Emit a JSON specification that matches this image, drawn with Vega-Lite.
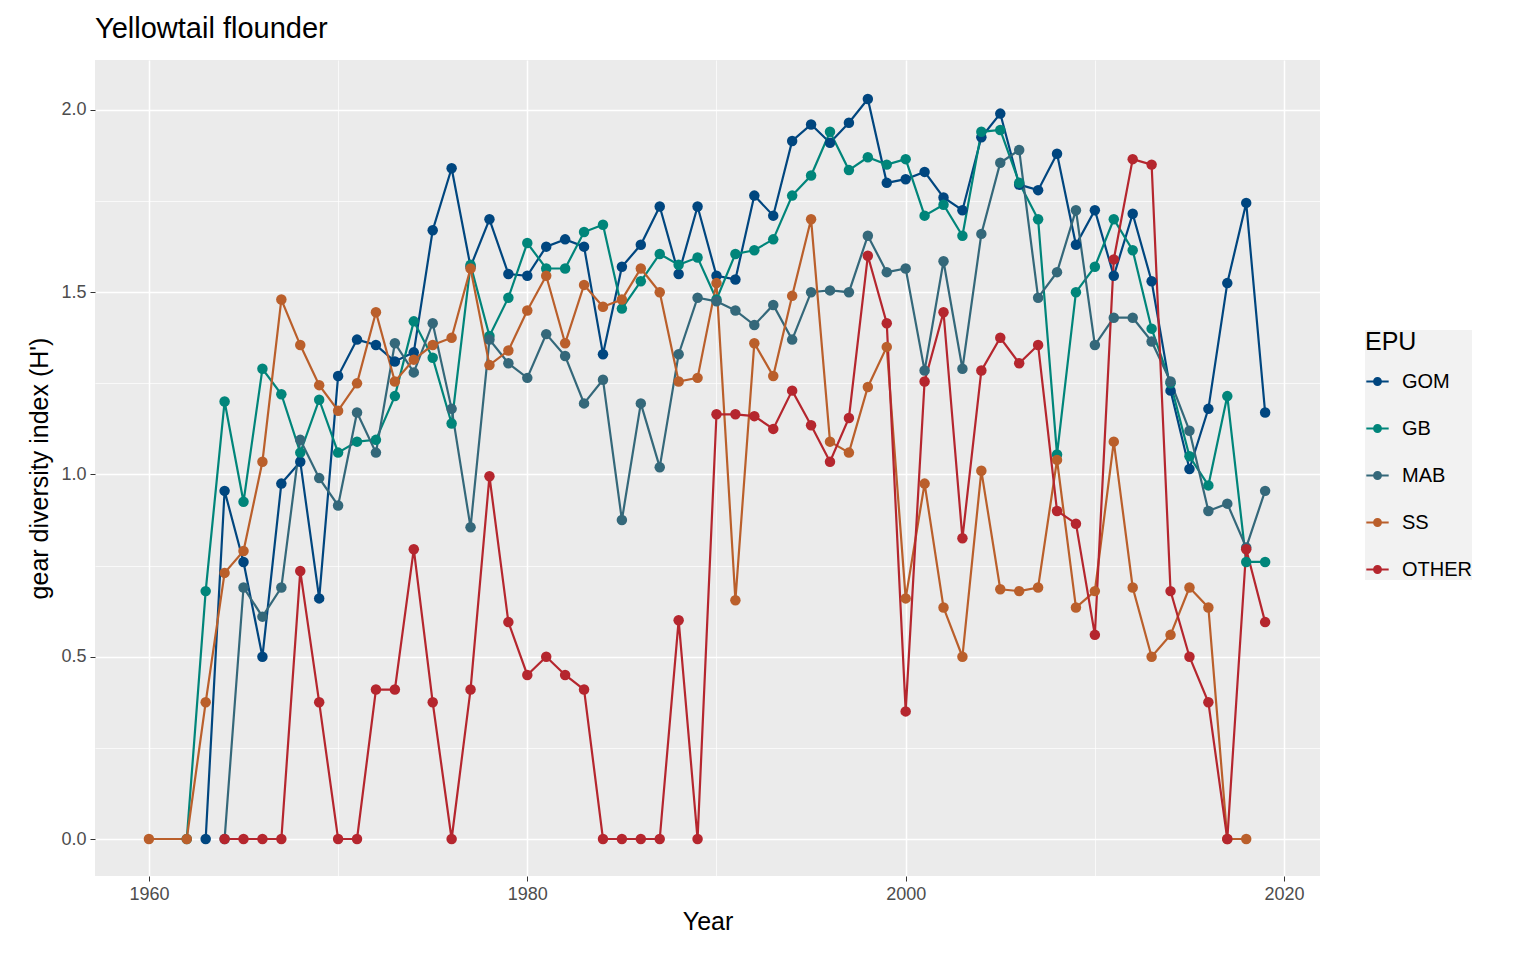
{
  "$schema": "https://vega.github.io/schema/vega-lite/v6.json",
  "width": 1225,
  "height": 816,
  "autosize": {"type": "none"},
  "padding": {"left": 95, "top": 60, "right": 216, "bottom": 84},
  "background": "white",
  "title": {"text": "Yellowtail flounder", "anchor": "start", "frame": "group", "fontSize": 29, "font": "Liberation Sans", "fontWeight": "normal", "color": "black", "offset": 16},
  "config": {
    "font": "Liberation Sans",
    "view": {"fill": "#EBEBEB", "stroke": null},
    "axis": {"gridColor": "white", "domain": false, "tickColor": "#333333", "tickSize": 5, "labelColor": "#4D4D4D", "labelFontSize": 18, "titleFontSize": 25, "titleFontWeight": "normal", "titleColor": "black", "labelPadding": 4}
  },
  "data": {"values": [
    {"year":1963,"EPU":"GOM","v":0},{"year":1964,"EPU":"GOM","v":0.955},{"year":1965,"EPU":"GOM","v":0.76},{"year":1966,"EPU":"GOM","v":0.5},{"year":1967,"EPU":"GOM","v":0.975},{"year":1968,"EPU":"GOM","v":1.035},{"year":1969,"EPU":"GOM","v":0.66},{"year":1970,"EPU":"GOM","v":1.27},{"year":1971,"EPU":"GOM","v":1.37},{"year":1972,"EPU":"GOM","v":1.355},{"year":1973,"EPU":"GOM","v":1.31},{"year":1974,"EPU":"GOM","v":1.335},{"year":1975,"EPU":"GOM","v":1.67},{"year":1976,"EPU":"GOM","v":1.84},{"year":1977,"EPU":"GOM","v":1.57},{"year":1978,"EPU":"GOM","v":1.7},{"year":1979,"EPU":"GOM","v":1.55},{"year":1980,"EPU":"GOM","v":1.545},{"year":1981,"EPU":"GOM","v":1.625},{"year":1982,"EPU":"GOM","v":1.645},{"year":1983,"EPU":"GOM","v":1.625},{"year":1984,"EPU":"GOM","v":1.33},{"year":1985,"EPU":"GOM","v":1.57},{"year":1986,"EPU":"GOM","v":1.63},{"year":1987,"EPU":"GOM","v":1.735},{"year":1988,"EPU":"GOM","v":1.55},{"year":1989,"EPU":"GOM","v":1.735},{"year":1990,"EPU":"GOM","v":1.545},{"year":1991,"EPU":"GOM","v":1.535},{"year":1992,"EPU":"GOM","v":1.765},{"year":1993,"EPU":"GOM","v":1.71},{"year":1994,"EPU":"GOM","v":1.915},{"year":1995,"EPU":"GOM","v":1.96},{"year":1996,"EPU":"GOM","v":1.91},{"year":1997,"EPU":"GOM","v":1.965},{"year":1998,"EPU":"GOM","v":2.03},{"year":1999,"EPU":"GOM","v":1.8},{"year":2000,"EPU":"GOM","v":1.81},{"year":2001,"EPU":"GOM","v":1.83},{"year":2002,"EPU":"GOM","v":1.76},{"year":2003,"EPU":"GOM","v":1.725},{"year":2004,"EPU":"GOM","v":1.925},{"year":2005,"EPU":"GOM","v":1.99},{"year":2006,"EPU":"GOM","v":1.795},{"year":2007,"EPU":"GOM","v":1.78},{"year":2008,"EPU":"GOM","v":1.88},{"year":2009,"EPU":"GOM","v":1.63},{"year":2010,"EPU":"GOM","v":1.725},{"year":2011,"EPU":"GOM","v":1.545},{"year":2012,"EPU":"GOM","v":1.715},{"year":2013,"EPU":"GOM","v":1.53},{"year":2014,"EPU":"GOM","v":1.23},{"year":2015,"EPU":"GOM","v":1.015},{"year":2016,"EPU":"GOM","v":1.18},{"year":2017,"EPU":"GOM","v":1.525},{"year":2018,"EPU":"GOM","v":1.745},{"year":2019,"EPU":"GOM","v":1.17},
    {"year":1962,"EPU":"GB","v":0},{"year":1963,"EPU":"GB","v":0.68},{"year":1964,"EPU":"GB","v":1.2},{"year":1965,"EPU":"GB","v":0.925},{"year":1966,"EPU":"GB","v":1.29},{"year":1967,"EPU":"GB","v":1.22},{"year":1968,"EPU":"GB","v":1.06},{"year":1969,"EPU":"GB","v":1.205},{"year":1970,"EPU":"GB","v":1.06},{"year":1971,"EPU":"GB","v":1.09},{"year":1972,"EPU":"GB","v":1.095},{"year":1973,"EPU":"GB","v":1.215},{"year":1974,"EPU":"GB","v":1.42},{"year":1975,"EPU":"GB","v":1.32},{"year":1976,"EPU":"GB","v":1.14},{"year":1977,"EPU":"GB","v":1.575},{"year":1978,"EPU":"GB","v":1.38},{"year":1979,"EPU":"GB","v":1.485},{"year":1980,"EPU":"GB","v":1.635},{"year":1981,"EPU":"GB","v":1.565},{"year":1982,"EPU":"GB","v":1.565},{"year":1983,"EPU":"GB","v":1.665},{"year":1984,"EPU":"GB","v":1.685},{"year":1985,"EPU":"GB","v":1.455},{"year":1986,"EPU":"GB","v":1.53},{"year":1987,"EPU":"GB","v":1.605},{"year":1988,"EPU":"GB","v":1.575},{"year":1989,"EPU":"GB","v":1.595},{"year":1990,"EPU":"GB","v":1.48},{"year":1991,"EPU":"GB","v":1.605},{"year":1992,"EPU":"GB","v":1.615},{"year":1993,"EPU":"GB","v":1.645},{"year":1994,"EPU":"GB","v":1.765},{"year":1995,"EPU":"GB","v":1.82},{"year":1996,"EPU":"GB","v":1.94},{"year":1997,"EPU":"GB","v":1.835},{"year":1998,"EPU":"GB","v":1.87},{"year":1999,"EPU":"GB","v":1.85},{"year":2000,"EPU":"GB","v":1.865},{"year":2001,"EPU":"GB","v":1.71},{"year":2002,"EPU":"GB","v":1.74},{"year":2003,"EPU":"GB","v":1.655},{"year":2004,"EPU":"GB","v":1.94},{"year":2005,"EPU":"GB","v":1.945},{"year":2006,"EPU":"GB","v":1.8},{"year":2007,"EPU":"GB","v":1.7},{"year":2008,"EPU":"GB","v":1.055},{"year":2009,"EPU":"GB","v":1.5},{"year":2010,"EPU":"GB","v":1.57},{"year":2011,"EPU":"GB","v":1.7},{"year":2012,"EPU":"GB","v":1.615},{"year":2013,"EPU":"GB","v":1.4},{"year":2014,"EPU":"GB","v":1.25},{"year":2015,"EPU":"GB","v":1.05},{"year":2016,"EPU":"GB","v":0.97},{"year":2017,"EPU":"GB","v":1.215},{"year":2018,"EPU":"GB","v":0.76},{"year":2019,"EPU":"GB","v":0.76},
    {"year":1964,"EPU":"MAB","v":0},{"year":1965,"EPU":"MAB","v":0.69},{"year":1966,"EPU":"MAB","v":0.61},{"year":1967,"EPU":"MAB","v":0.69},{"year":1968,"EPU":"MAB","v":1.095},{"year":1969,"EPU":"MAB","v":0.99},{"year":1970,"EPU":"MAB","v":0.915},{"year":1971,"EPU":"MAB","v":1.17},{"year":1972,"EPU":"MAB","v":1.06},{"year":1973,"EPU":"MAB","v":1.36},{"year":1974,"EPU":"MAB","v":1.28},{"year":1975,"EPU":"MAB","v":1.415},{"year":1976,"EPU":"MAB","v":1.18},{"year":1977,"EPU":"MAB","v":0.855},{"year":1978,"EPU":"MAB","v":1.37},{"year":1979,"EPU":"MAB","v":1.305},{"year":1980,"EPU":"MAB","v":1.265},{"year":1981,"EPU":"MAB","v":1.385},{"year":1982,"EPU":"MAB","v":1.325},{"year":1983,"EPU":"MAB","v":1.195},{"year":1984,"EPU":"MAB","v":1.26},{"year":1985,"EPU":"MAB","v":0.875},{"year":1986,"EPU":"MAB","v":1.195},{"year":1987,"EPU":"MAB","v":1.02},{"year":1988,"EPU":"MAB","v":1.33},{"year":1989,"EPU":"MAB","v":1.485},{"year":1990,"EPU":"MAB","v":1.475},{"year":1991,"EPU":"MAB","v":1.45},{"year":1992,"EPU":"MAB","v":1.41},{"year":1993,"EPU":"MAB","v":1.465},{"year":1994,"EPU":"MAB","v":1.37},{"year":1995,"EPU":"MAB","v":1.5},{"year":1996,"EPU":"MAB","v":1.505},{"year":1997,"EPU":"MAB","v":1.5},{"year":1998,"EPU":"MAB","v":1.655},{"year":1999,"EPU":"MAB","v":1.555},{"year":2000,"EPU":"MAB","v":1.565},{"year":2001,"EPU":"MAB","v":1.285},{"year":2002,"EPU":"MAB","v":1.585},{"year":2003,"EPU":"MAB","v":1.29},{"year":2004,"EPU":"MAB","v":1.66},{"year":2005,"EPU":"MAB","v":1.855},{"year":2006,"EPU":"MAB","v":1.89},{"year":2007,"EPU":"MAB","v":1.485},{"year":2008,"EPU":"MAB","v":1.555},{"year":2009,"EPU":"MAB","v":1.725},{"year":2010,"EPU":"MAB","v":1.355},{"year":2011,"EPU":"MAB","v":1.43},{"year":2012,"EPU":"MAB","v":1.43},{"year":2013,"EPU":"MAB","v":1.365},{"year":2014,"EPU":"MAB","v":1.255},{"year":2015,"EPU":"MAB","v":1.12},{"year":2016,"EPU":"MAB","v":0.9},{"year":2017,"EPU":"MAB","v":0.92},{"year":2018,"EPU":"MAB","v":0.8},{"year":2019,"EPU":"MAB","v":0.955},
    {"year":1960,"EPU":"SS","v":0},{"year":1962,"EPU":"SS","v":0},{"year":1963,"EPU":"SS","v":0.375},{"year":1964,"EPU":"SS","v":0.73},{"year":1965,"EPU":"SS","v":0.79},{"year":1966,"EPU":"SS","v":1.035},{"year":1967,"EPU":"SS","v":1.48},{"year":1968,"EPU":"SS","v":1.355},{"year":1969,"EPU":"SS","v":1.245},{"year":1970,"EPU":"SS","v":1.175},{"year":1971,"EPU":"SS","v":1.25},{"year":1972,"EPU":"SS","v":1.445},{"year":1973,"EPU":"SS","v":1.255},{"year":1974,"EPU":"SS","v":1.315},{"year":1975,"EPU":"SS","v":1.355},{"year":1976,"EPU":"SS","v":1.375},{"year":1977,"EPU":"SS","v":1.565},{"year":1978,"EPU":"SS","v":1.3},{"year":1979,"EPU":"SS","v":1.34},{"year":1980,"EPU":"SS","v":1.45},{"year":1981,"EPU":"SS","v":1.545},{"year":1982,"EPU":"SS","v":1.36},{"year":1983,"EPU":"SS","v":1.52},{"year":1984,"EPU":"SS","v":1.46},{"year":1985,"EPU":"SS","v":1.48},{"year":1986,"EPU":"SS","v":1.565},{"year":1987,"EPU":"SS","v":1.5},{"year":1988,"EPU":"SS","v":1.255},{"year":1989,"EPU":"SS","v":1.265},{"year":1990,"EPU":"SS","v":1.525},{"year":1991,"EPU":"SS","v":0.655},{"year":1992,"EPU":"SS","v":1.36},{"year":1993,"EPU":"SS","v":1.27},{"year":1994,"EPU":"SS","v":1.49},{"year":1995,"EPU":"SS","v":1.7},{"year":1996,"EPU":"SS","v":1.09},{"year":1997,"EPU":"SS","v":1.06},{"year":1998,"EPU":"SS","v":1.24},{"year":1999,"EPU":"SS","v":1.35},{"year":2000,"EPU":"SS","v":0.66},{"year":2001,"EPU":"SS","v":0.975},{"year":2002,"EPU":"SS","v":0.635},{"year":2003,"EPU":"SS","v":0.5},{"year":2004,"EPU":"SS","v":1.01},{"year":2005,"EPU":"SS","v":0.685},{"year":2006,"EPU":"SS","v":0.68},{"year":2007,"EPU":"SS","v":0.69},{"year":2008,"EPU":"SS","v":1.04},{"year":2009,"EPU":"SS","v":0.635},{"year":2010,"EPU":"SS","v":0.68},{"year":2011,"EPU":"SS","v":1.09},{"year":2012,"EPU":"SS","v":0.69},{"year":2013,"EPU":"SS","v":0.5},{"year":2014,"EPU":"SS","v":0.56},{"year":2015,"EPU":"SS","v":0.69},{"year":2016,"EPU":"SS","v":0.635},{"year":2017,"EPU":"SS","v":0},{"year":2018,"EPU":"SS","v":0},
    {"year":1964,"EPU":"OTHER","v":0},{"year":1965,"EPU":"OTHER","v":0},{"year":1966,"EPU":"OTHER","v":0},{"year":1967,"EPU":"OTHER","v":0},{"year":1968,"EPU":"OTHER","v":0.735},{"year":1969,"EPU":"OTHER","v":0.375},{"year":1970,"EPU":"OTHER","v":0},{"year":1971,"EPU":"OTHER","v":0},{"year":1972,"EPU":"OTHER","v":0.41},{"year":1973,"EPU":"OTHER","v":0.41},{"year":1974,"EPU":"OTHER","v":0.795},{"year":1975,"EPU":"OTHER","v":0.375},{"year":1976,"EPU":"OTHER","v":0},{"year":1977,"EPU":"OTHER","v":0.41},{"year":1978,"EPU":"OTHER","v":0.995},{"year":1979,"EPU":"OTHER","v":0.595},{"year":1980,"EPU":"OTHER","v":0.45},{"year":1981,"EPU":"OTHER","v":0.5},{"year":1982,"EPU":"OTHER","v":0.45},{"year":1983,"EPU":"OTHER","v":0.41},{"year":1984,"EPU":"OTHER","v":0},{"year":1985,"EPU":"OTHER","v":0},{"year":1986,"EPU":"OTHER","v":0},{"year":1987,"EPU":"OTHER","v":0},{"year":1988,"EPU":"OTHER","v":0.6},{"year":1989,"EPU":"OTHER","v":0},{"year":1990,"EPU":"OTHER","v":1.165},{"year":1991,"EPU":"OTHER","v":1.165},{"year":1992,"EPU":"OTHER","v":1.16},{"year":1993,"EPU":"OTHER","v":1.125},{"year":1994,"EPU":"OTHER","v":1.23},{"year":1995,"EPU":"OTHER","v":1.135},{"year":1996,"EPU":"OTHER","v":1.035},{"year":1997,"EPU":"OTHER","v":1.155},{"year":1998,"EPU":"OTHER","v":1.6},{"year":1999,"EPU":"OTHER","v":1.415},{"year":2000,"EPU":"OTHER","v":0.35},{"year":2001,"EPU":"OTHER","v":1.255},{"year":2002,"EPU":"OTHER","v":1.445},{"year":2003,"EPU":"OTHER","v":0.825},{"year":2004,"EPU":"OTHER","v":1.285},{"year":2005,"EPU":"OTHER","v":1.375},{"year":2006,"EPU":"OTHER","v":1.305},{"year":2007,"EPU":"OTHER","v":1.355},{"year":2008,"EPU":"OTHER","v":0.9},{"year":2009,"EPU":"OTHER","v":0.865},{"year":2010,"EPU":"OTHER","v":0.56},{"year":2011,"EPU":"OTHER","v":1.59},{"year":2012,"EPU":"OTHER","v":1.865},{"year":2013,"EPU":"OTHER","v":1.85},{"year":2014,"EPU":"OTHER","v":0.68},{"year":2015,"EPU":"OTHER","v":0.5},{"year":2016,"EPU":"OTHER","v":0.375},{"year":2017,"EPU":"OTHER","v":0},{"year":2018,"EPU":"OTHER","v":0.795},{"year":2019,"EPU":"OTHER","v":0.595}
  ]},
  "encoding": {
    "x": {"field": "year", "type": "quantitative", "title": "Year",
      "scale": {"domain": [1957.15, 2021.9], "nice": false, "zero": false},
      "axis": {"values": [1960, 1970, 1980, 1990, 2000, 2010, 2020], "format": "d",
        "labelExpr": "datum.value % 20 == 0 ? datum.label : ''",
        "tickWidth": {"condition": {"test": "datum.value % 20 != 0", "value": 0}, "value": 1},
        "gridWidth": {"condition": {"test": "datum.value % 20 != 0", "value": 0.7}, "value": 1.5}, "titlePadding": 6}},
    "y": {"field": "v", "type": "quantitative", "title": "gear diversity index (H')",
      "scale": {"domain": [-0.1015, 2.137], "nice": false, "zero": false},
      "axis": {"values": [0, 0.25, 0.5, 0.75, 1, 1.25, 1.5, 1.75, 2],
        "labelExpr": "datum.value * 2 % 1 == 0 ? format(datum.value, '.1f') : ''",
        "tickWidth": {"condition": {"test": "datum.value * 2 % 1 != 0", "value": 0}, "value": 1},
        "gridWidth": {"condition": {"test": "datum.value * 2 % 1 != 0", "value": 0.7}, "value": 1.5}, "titlePadding": 8}},
    "color": {"field": "EPU", "type": "nominal",
      "sort": ["GOM", "GB", "MAB", "SS", "OTHER"],
      "scale": {"domain": ["GOM", "GB", "MAB", "SS", "OTHER"], "range": ["#00467f", "#00857a", "#34687a", "#ba5f2b", "#b5262e"]},
      "legend": {"orient": "none", "legendX": 1270, "legendY": 270, "title": "EPU", "titleFontSize": 25, "titleFontWeight": "normal", "titleColor": "black", "titlePadding": 14,
        "labelFontSize": 20, "labelColor": "black", "symbolType": "M-1,0L1,0M-0.3,0A0.3,0.3 0 1 1 0.3,0A0.3,0.3 0 1 1 -0.3,0", "symbolSize": 500, "symbolStrokeWidth": 2.2,
        "rowPadding": 24, "labelOffset": 12, "fillColor": "#F2F2F2", "padding": 0, "offset": 0}}
  },
  "layer": [
    {"mark": {"type": "line", "strokeWidth": 2.2}},
    {"mark": {"type": "circle", "size": 110, "opacity": 1}}
  ]
}
